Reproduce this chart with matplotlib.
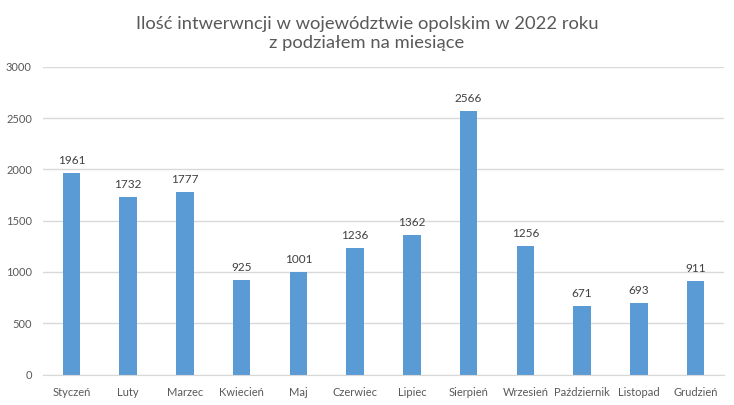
import matplotlib

matplotlib.use("Agg")
import matplotlib.pyplot as plt

plt.rcParams["font.family"] = ["Lato", "DejaVu Sans"]

months = ["Styczeń", "Luty", "Marzec", "Kwiecień", "Maj", "Czerwiec",
          "Lipiec", "Sierpień", "Wrzesień", "Październik", "Listopad", "Grudzień"]
counts = [1961, 1732, 1777, 925, 1001, 1236, 1362, 2566, 1256, 671, 693, 911]
yticks = [0, 500, 1000, 1500, 2000, 2500, 3000]

TEXT = "#595959"
GRID = "#D9D9D9"

fig = plt.figure(figsize=(7.34, 4.05), dpi=100)
ax = fig.add_axes([0.0586, 0.0753, 0.9278, 0.7597])

x = list(range(len(months)))
bars = ax.bar(x, counts, width=0.31, color="#5B9BD5", zorder=3)
for xi, v in zip(x, counts):
    ax.annotate(str(v), (xi, v), xytext=(0, 5), textcoords="offset points",
                ha="center", va="bottom", fontsize=8.5, color="#404040")

ax.set_xlim(-0.5, len(months) - 0.5)
ax.set_ylim(0, 3000)
ax.set_yticks(yticks)
ax.set_xticks(x)
ax.set_xticklabels(months)
ax.tick_params(axis="both", length=0, labelsize=8, labelcolor=TEXT)
ax.tick_params(axis="x", pad=9)
ax.tick_params(axis="y", pad=8)
ax.grid(axis="y", color=GRID, linewidth=1.0, zorder=0)
for name in ["top", "right", "left"]:
    ax.spines[name].set_visible(False)
ax.spines["bottom"].set_color(GRID)
ax.spines["bottom"].set_zorder(4)

fig.text(0.5, 0.917, "Ilość intwerwncji w województwie opolskim w 2022 roku\nz podziałem na miesiące",
         ha="center", va="center", fontsize=13.2, color=TEXT, linespacing=1.25)

fig.savefig("out.png", dpi=100)
